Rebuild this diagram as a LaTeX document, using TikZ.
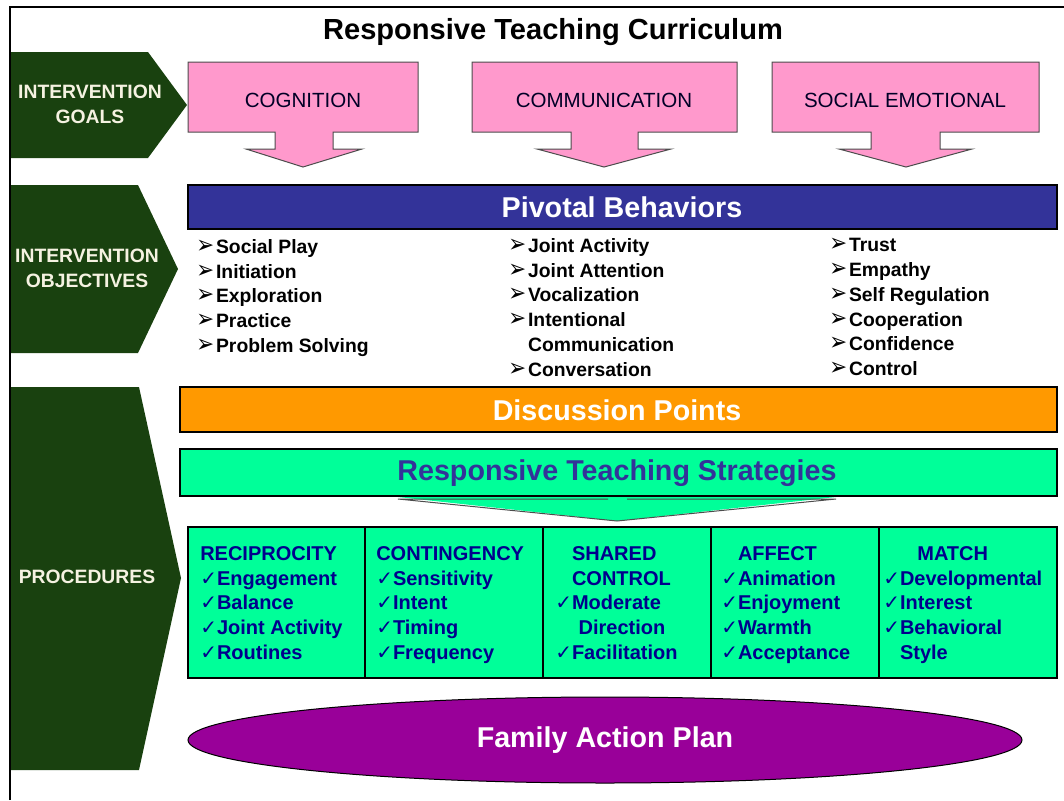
\documentclass[tikz,border=0pt]{standalone}
\usepackage{fontspec}
\setmainfont{Liberation Sans}
\newfontfamily\symfont{DejaVu Sans}
\usetikzlibrary{shapes.geometric}

\definecolor{chevgreen}{RGB}{25,65,15}
\definecolor{goalpink}{RGB}{255,153,204}
\definecolor{pivotblue}{RGB}{51,51,153}
\definecolor{discorange}{RGB}{255,153,0}
\definecolor{stratgreen}{RGB}{0,255,153}
\definecolor{planpurple}{RGB}{153,0,153}
\definecolor{stratnavy}{RGB}{0,0,140}
\definecolor{labelcream}{RGB}{245,242,225}

\newcommand{\arr}{\scalebox{1.1}[1.3]{\symfont ➢}\hspace{1.5pt}}
\newcommand{\ck}{{\symfont ✓}}

\tikzset{
  chevron/.style={fill=chevgreen},
  chevlabel/.style={text=labelcream,font=\fontsize{14.5}{18.75}\selectfont\bfseries,align=center,inner sep=0},
  goalbox/.style={fill=goalpink,draw=black!70,line width=0.75pt},
  goallabel/.style={font=\fontsize{15.4}{18}\selectfont,text=black!85!blue,inner sep=0},
  bar/.style={draw=black,line width=0.9pt},
  bartext/.style={font=\fontsize{21.5}{24}\selectfont\bfseries,inner sep=0},
  itemlist/.style={anchor=north west,align=left,inner sep=0,font=\fontsize{14.5}{18.6}\selectfont\bfseries},
  cell/.style={anchor=north west,align=left,inner sep=0,text=stratnavy,font=\fontsize{15}{18.6}\selectfont\bfseries},
}

\begin{document}
\begin{tikzpicture}[x=0.75pt,y=-0.75pt]
\useasboundingbox (0,0) rectangle (1064,800);

\node[font=\fontsize{21.8}{24}\selectfont\bfseries,inner sep=0] (title) at (553,32) {Responsive Teaching Curriculum};

% left column
\fill[chevron]
(11,52) -- (148,52) -- (187,105) -- (148,158) -- (11,158) -- cycle;
\fill[chevron]
(11,185) -- (138,185) -- (178,269) -- (138,353) -- (11,353) -- cycle;
\fill[chevron]
(11,387) -- (139,387) -- (181,578) -- (139,770) -- (11,770) -- cycle;
\node[chevlabel] (goals) at (90,104) {INTERVENTION\\GOALS};
\node[chevlabel] (objectives) at (87,268) {INTERVENTION\\OBJECTIVES};
\node[chevlabel] (procedures) at (87,577) {PROCEDURES};

% goals
\draw[goalbox]
(188,62) -- (418,62) -- (418,132) -- (333,132) -- (333,149) -- (362,149) -- (303,167)
-- (246,149) -- (275,149) -- (275,132) -- (188,132) -- cycle;
\draw[goalbox]
(472,62) -- (737,62) -- (737,132) -- (638,132) -- (638,149) -- (671,149) -- (604,167)
-- (537,149) -- (571,149) -- (571,132) -- (472,132) -- cycle;
\draw[goalbox]
(772,62) -- (1039,62) -- (1039,132) -- (940,132) -- (940,149) -- (972,149) -- (906,167)
-- (839,149) -- (871,149) -- (871,132) -- (772,132) -- cycle;
\node[goallabel] (cognition) at (303,100) {COGNITION};
\node[goallabel] (communication) at (604,100) {COMMUNICATION};
\node[goallabel] (socialemotional) at (905,100) {SOCIAL EMOTIONAL};

% objectives
\draw[bar,fill=pivotblue] (188,185) rectangle (1057,229);
\node[bartext,text=white] (pivotal) at (622,207) {Pivotal Behaviors};
\node[itemlist] (cogitems) at (196,239)
{\arr Social Play\\ \arr Initiation\\ \arr Exploration\\ \arr Practice\\ \arr Problem Solving};
\node[itemlist] (commitems) at (508,238)
{\arr Joint Activity\\ \arr Joint Attention\\ \arr Vocalization\\ \arr Intentional\\
\phantom{\arr}Communication\\ \arr Conversation};
\node[itemlist] (socitems) at (829,238)
{\arr Trust\\ \arr Empathy\\ \arr Self Regulation\\ \arr Cooperation\\ \arr Confidence\\ \arr Control};

% procedures
\draw[bar,fill=discorange] (180,387) rectangle (1057,432);
\node[bartext,text=white] (discussion) at (617,410) {Discussion Points};
\draw[bar,fill=stratgreen] (180,449) rectangle (1057,496);
\node[bartext,text=pivotblue] (strategies) at (617,473) {Responsive Teaching Strategies};
\fill[stratgreen] (398,497) -- (836,497) -- (617,521) -- cycle;
\draw[line width=0.75pt,black!70]
(608,499) -- (398,499) -- (617,521) -- (836,499) -- (627,499);

\draw[bar,fill=stratgreen] (188,527) rectangle (1057,678);
\draw[line width=0.9pt]
(365,527) -- (365,678)
(543,527) -- (543,678)
(711,527) -- (711,678)
(879,527) -- (879,678);
\node[cell] (reciprocity) at (200,546)
{RECIPROCITY\\ \ck Engagement\\ \ck Balance\\ \ck Joint Activity\\ \ck Routines};
\node[cell] (contingency) at (376,546)
{CONTINGENCY\\ \ck Sensitivity\\ \ck Intent\\ \ck Timing\\ \ck Frequency};
\node[cell] (sharedcontrol) at (555,546)
{\phantom{\ck}SHARED\\ \phantom{\ck}CONTROL\\ \ck Moderate\\ \phantom{\ck}\hspace{5pt}Direction\\ \ck Facilitation};
\node[cell] (affect) at (721,546)
{\phantom{\ck}AFFECT\\ \ck Animation\\ \ck Enjoyment\\ \ck Warmth\\ \ck Acceptance};
\node[cell] (match) at (883,546)
{\phantom{\ck}\hspace{13pt}MATCH\\ \ck Developmental\\ \ck Interest\\ \ck Behavioral\\ \phantom{\ck}Style};

\node[ellipse,draw=black,line width=0.75pt,fill=planpurple,minimum width=625.5pt,minimum height=64.5pt,
inner sep=0,text=white,font=\fontsize{21.5}{24}\selectfont\bfseries] (plan) at (605,740) {Family Action Plan};

% frame
\draw[line width=1.5pt] (10,800) -- (10,7) -- (1064,7);
\end{tikzpicture}
\end{document}
